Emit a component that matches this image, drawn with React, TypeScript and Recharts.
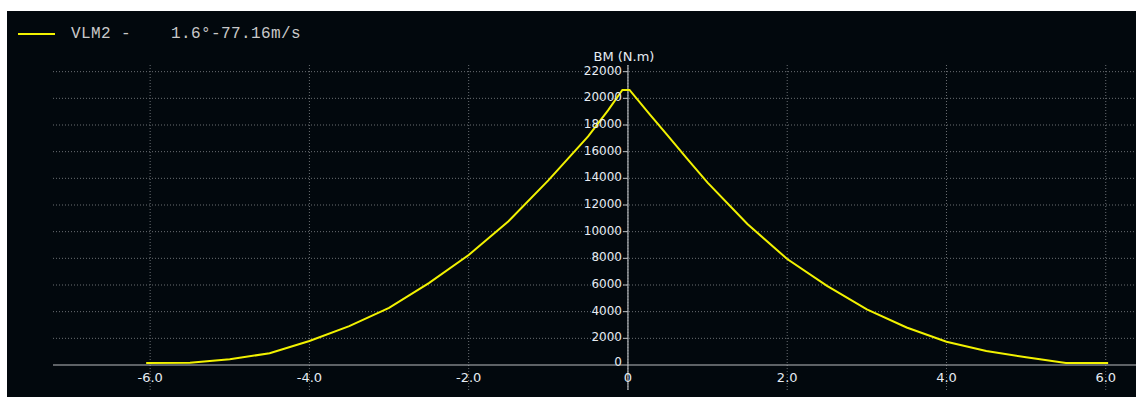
import React from "react";
import {
  ComposedChart,
  Line,
  XAxis,
  YAxis,
  CartesianGrid,
  ReferenceLine,
  ReferenceDot,
} from "recharts";

// beam position along span (m) and bending moment (N.m)
const positions = [
  -6.05, -5.5, -5.0, -4.5, -4.0, -3.5, -3.0, -2.5, -2.0, -1.5, -1.0, -0.75,
  -0.5, -0.25, -0.07, 0.02, 0.25, 0.5, 0.75, 1.0, 1.5, 2.0, 2.5, 3.0, 3.5, 4.0,
  4.5, 5.0, 5.5, 6.03,
];
const bendingMoment = [
  150, 170, 430, 880, 1800, 2920, 4290, 6140, 8250, 10780, 13850, 15500, 17150,
  19100, 20630, 20630, 18960, 17200, 15420, 13680, 10570, 7950, 5940, 4170, 2810,
  1750, 1050, 580, 150, 150,
];

const xTicks = [-6, -4, -2, 0, 2, 4, 6];
const yTicks = [0, 2000, 4000, 6000, 8000, 10000, 12000, 14000, 16000, 18000, 20000, 22000];

const seriesName = "VLM2";
const seriesCase = "1.6°-77.16m/s";
const yTitle = "BM (N.m)";

const BG = "#02080d";
const AXIS = "#b9bcbf";
const GRID = "#6b6f73";
const TEXT = "#e6ecf3";
const YELLOW = "#f2f200";

const data = positions.map((x, i) => ({ x, bm: bendingMoment[i] }));

const fmtX = (v: number) => (v === 0 ? "0" : v.toFixed(1));

function YTick(props: any) {
  const { cx, cy, value } = props;
  return (
    <g>
      {value !== 0 && <line x1={cx - 5} x2={cx} y1={cy} y2={cy} stroke={AXIS} />}
      <text
        x={cx - 6}
        y={cy}
        dy={value === 0 ? 1 : 3}
        textAnchor="end"
        fill={TEXT}
        fontFamily="'DejaVu Sans', sans-serif"
        fontSize={12}
      >
        {value}
      </text>
    </g>
  );
}

export default function App() {
  return (
    <div
      style={{
        position: "absolute",
        left: 7,
        top: 11,
        width: 1129,
        height: 386,
        background: BG,
      }}
    >
      <div
        style={{
          position: "absolute",
          left: 11,
          top: 14,
          display: "flex",
          alignItems: "center",
          whiteSpace: "pre",
          fontFamily: "'Liberation Mono', monospace",
          fontSize: 16,
          letterSpacing: 0.4,
          color: "#c9c9c9",
        }}
      >
        <span style={{ width: 37, height: 2, background: YELLOW, marginRight: 16 }} />
        <span>{`${seriesName} -    ${seriesCase}`}</span>
      </div>
      <ComposedChart
        width={1129}
        height={386}
        data={data}
        margin={{ top: 54, right: 0, bottom: 7, left: 46 }}
      >
        <CartesianGrid
          stroke={GRID}
          strokeDasharray="1 2"
          horizontalValues={yTicks.filter((t) => t !== 0)}
          verticalValues={xTicks}
        />
        <XAxis
          dataKey="x"
          type="number"
          domain={[-7.22, 6.38]}
          ticks={xTicks}
          tickFormatter={fmtX}
          allowDataOverflow
          mirror
          axisLine={false}
          tickLine={false}
          tickSize={3}
          tickMargin={5}
          tick={{ fill: TEXT, fontSize: 13, fontFamily: "'DejaVu Sans', sans-serif" }}
        />
        <YAxis type="number" domain={[-1875, 22500]} allowDataOverflow hide />
        <ReferenceLine y={0} stroke={AXIS} strokeWidth={1.2} />
        <ReferenceLine
          x={0}
          stroke={AXIS}
          strokeWidth={1.2}
          label={{
            value: yTitle,
            position: "top",
            offset: 4,
            dx: -4,
            fill: TEXT,
            fontSize: 13,
            fontFamily: "'DejaVu Sans', sans-serif",
          }}
        />
        {yTicks.map((t) => (
          <ReferenceDot
            key={t}
            x={0}
            y={t}
            r={0}
            shape={(p: any) => <YTick {...p} value={t} />}
          />
        ))}
        <Line
          type="linear"
          dataKey="bm"
          stroke={YELLOW}
          strokeWidth={2}
          dot={false}
          isAnimationActive={false}
        />
      </ComposedChart>
    </div>
  );
}
